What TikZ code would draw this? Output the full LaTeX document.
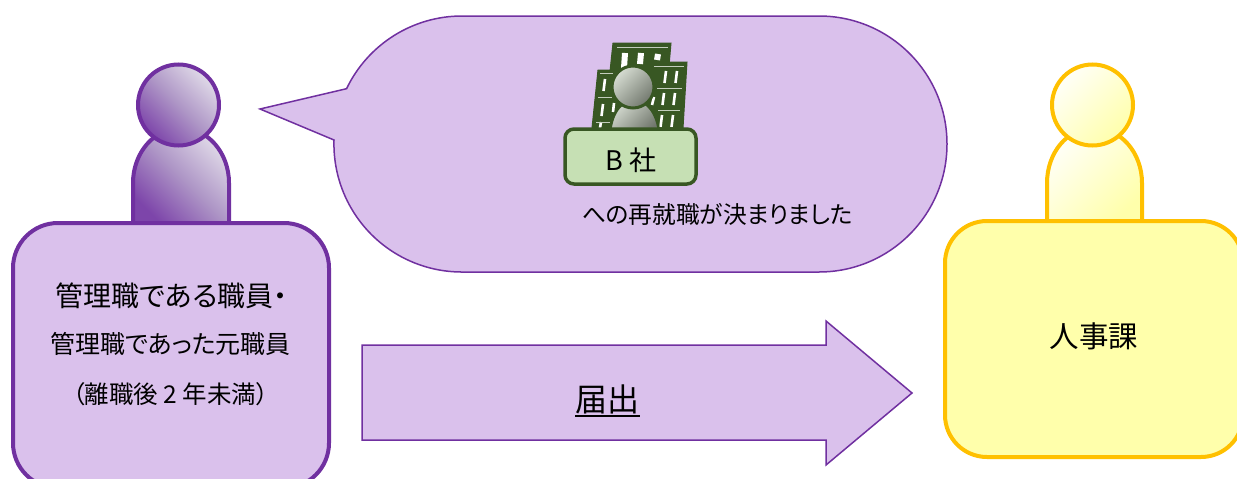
\documentclass[tikz,border=0pt]{standalone}
\usepackage{fontspec}
\setmainfont[RawFeature=+palt]{Noto Sans CJK JP}
\newcommand{\fsz}[1]{\fontsize{#1}{#1}\selectfont}
\definecolor{pfill}{HTML}{DAC1EC}
\definecolor{pline}{HTML}{7030A0}
\definecolor{yfill}{HTML}{FFFFAB}
\definecolor{yline}{HTML}{FFC000}
\definecolor{gline}{HTML}{385723}
\definecolor{gfill}{HTML}{C6E0B4}
\definecolor{pdark}{HTML}{7D45AA}
\definecolor{pmid}{HTML}{AE96C6}
\definecolor{plight}{HTML}{E0DAE8}
\tikzset{
  pshade/.style={draw=pline,line width=4pt,bottom color=pdark,top color=plight,middle color=pmid,shading angle=-45},
  yshade/.style={draw=yline,line width=4pt,top color=yfill!8!white,bottom color=yfill,shading angle=45},
  pthin/.style={draw=pline,line width=1.5pt,fill=pfill},
  pbox/.style={draw=pline,line width=4pt,fill=pfill,rounded corners=45pt},
  ybox/.style={draw=yline,line width=4pt,fill=yfill,rounded corners=42pt},
  lbl/.style={inner sep=0pt,text=black},
  bldg/.style={fill=gline,draw=gline,line width=1pt},
  win/.style={draw=white,line width=2.6pt},
  bigwin/.style={draw=white,line width=6pt},
  roof/.style={draw=white!70!gline,line width=1pt},
  gshade/.style={draw=gline,line width=3pt,top color=gline!20!white,bottom color=gline!20!gray,shading angle=45}
}
\begin{document}
\begin{tikzpicture}[x=1pt,y=-1pt]
\useasboundingbox (0,0) rectangle (1237,479);
\clip (0,0) rectangle (1237,479);
% left person
\path[pshade] (133,224) -- (133,183) .. controls (133,153) and (154,128) .. (181,128) .. controls (208,128) and (229,153) .. (229,183) -- (229,224) -- cycle;
\path[pshade] (178.5,105) circle[radius=40.5pt];
\path[pbox] (13,223) rectangle (329,488);
% right person
\path[yshade] (1047,222) -- (1047,183) .. controls (1047,153) and (1067,128) .. (1094,128) .. controls (1121,128) and (1142,153) .. (1142,183) -- (1142,222) -- cycle;
\path[yshade] (1092.5,105) circle[radius=40.5pt];
\path[ybox] (945,221) rectangle (1243,457);
% bubble
\path[pthin] (334,140) arc[start angle=178.2,end angle=270,radius=128pt] -- (819,272) arc[start angle=270,end angle=450,radius=128pt] -- (462,16) arc[start angle=90,end angle=154.4,radius=128pt] -- (260,109) -- cycle;
% arrow
\path[pthin] (362,345) -- (826,345) -- (826,321) -- (912,393) -- (826,465) -- (826,440) -- (362,440) -- cycle;
% buildings
\path[bldg] (613,43) -- (671,43) -- (669,66) -- (668,128) -- (604,128) -- cycle;
\path[bldg] (652,62) -- (687,62) -- (683,128) -- (640,128) -- cycle;
\path[bldg] (598,70) -- (618,70) -- (618,128) -- (592,128) -- cycle;
\foreach \a/\b/\c in {625/53/68,641/53/64,658/54/60}{
  \draw[bigwin] (\a,\b) -- (\a-1,\c);
}
\foreach \a/\b in {666/71,677/71,664/93,675/93,662/115,673/115,605/79,603/104}{
  \draw[win] (\a,\b) -- (\a-1.5,\b+12);
}
\draw[win] (614,103) -- (613,112);
\draw[win] (601,122) -- (600,128);
\draw[win] (654,97) -- (652,105);
\draw[roof] (617,47) -- (668,47);
\draw[roof] (654,66) -- (684,66);
\draw[roof] (600,73) -- (613,73);
\draw[roof] (598,97) -- (612,97);
\draw[roof] (596,122) -- (610,122);
\draw[roof] (657,88) -- (682,88);
\draw[roof] (658,110) -- (680,110);
% small person
\path[gshade,line width=2.5pt] (610,132) .. controls (612,112) and (622,100) .. (634,100) .. controls (646,100) and (657,112) .. (659,132) -- cycle;
\path[gshade] (633,87) circle[radius=21pt];
\path[draw=gline,line width=3.5pt,fill=gfill,rounded corners=9pt] (565,129) rectangle (696,184);
% texts
\node[lbl] (bsha) at (631,160) {\fsz{27}B 社};
\node[lbl] (kettei) at (717.5,214) {\fsz{23.7}への再就職が決まりました};
\node[lbl] (line1) at (171.5,296) {\fsz{28}管理職である職員・};
\node[lbl] (line2) at (170.5,344) {\fsz{25}管理職であった元職員};
\node[lbl] (line3) at (170.5,394) {\fsz{24.5}（離職後 2 年未満）};
\node[lbl] (jinji) at (1094,336) {\fsz{29.5}人事課};
\node[lbl] (todoke) at (607.5,399) {\fsz{32}届出};
\draw[black,line width=1.6pt] (575,416) -- (640,416);
\end{tikzpicture}
\end{document}
